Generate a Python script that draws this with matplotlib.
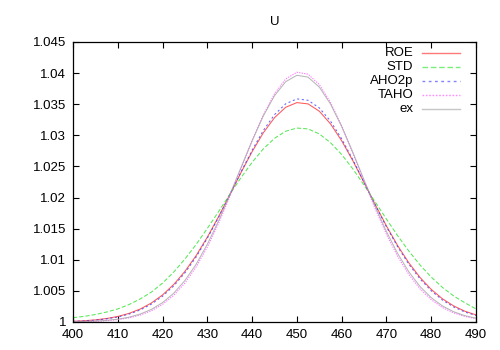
import matplotlib
matplotlib.use('Agg')
from matplotlib import pyplot as plt
from matplotlib.lines import Line2D

x = [400, 402.5, 405, 407.5, 410, 412.5, 415, 417.5, 420, 422.5,
     425, 427.5, 430, 432.5, 435, 437.5, 440, 442.5, 445, 447.5,
     450, 452.5, 455, 457.5, 460, 462.5, 465, 467.5, 470, 472.5,
     475, 477.5, 480, 482.5, 485, 487.5, 490]

roe = [1.00012, 1.00020, 1.00034, 1.00056, 1.00089, 1.00138, 1.00208, 1.00305, 1.00435, 1.00603,
       1.00814, 1.01067, 1.01364, 1.01692, 1.02043, 1.02398, 1.02737, 1.03040, 1.03284, 1.03451,
       1.03526, 1.03505, 1.03388, 1.03185, 1.02913, 1.02591, 1.02241, 1.01886, 1.01544, 1.01228,
       1.00951, 1.00716, 1.00524, 1.00373, 1.00259, 1.00174, 1.00114]

std = [1.00070, 1.00090, 1.00120, 1.00160, 1.00210, 1.00280, 1.00370, 1.00480, 1.00625, 1.00803,
       1.01012, 1.01246, 1.01504, 1.01773, 1.02050, 1.02318, 1.02566, 1.02782, 1.02952, 1.03066,
       1.03117, 1.03103, 1.03023, 1.02883, 1.02692, 1.02460, 1.02201, 1.01928, 1.01654, 1.01387,
       1.01140, 1.00916, 1.00722, 1.00556, 1.00419, 1.00310, 1.00210]

aho2p = [1.00010, 1.00017, 1.00030, 1.00050, 1.00080, 1.00126, 1.00193, 1.00287, 1.00414, 1.00580,
         1.00790, 1.01045, 1.01345, 1.01680, 1.02042, 1.02409, 1.02761, 1.03077, 1.03332, 1.03507,
         1.03586, 1.03563, 1.03441, 1.03229, 1.02944, 1.02609, 1.02246, 1.01880, 1.01530, 1.01208,
         1.00928, 1.00692, 1.00502, 1.00353, 1.00242, 1.00161, 1.00104]

taho = [1.00003, 1.00006, 1.00011, 1.00021, 1.00038, 1.00066, 1.00111, 1.00180, 1.00283, 1.00429,
        1.00626, 1.00884, 1.01204, 1.01583, 1.02010, 1.02463, 1.02912, 1.03327, 1.03668, 1.03906,
        1.04014, 1.03983, 1.03816, 1.03530, 1.03150, 1.02716, 1.02260, 1.01817, 1.01410, 1.01055,
        1.00763, 1.00532, 1.00359, 1.00233, 1.00146, 1.00089, 1.00052]

ex = [1.00004, 1.00008, 1.00014, 1.00026, 1.00045, 1.00077, 1.00127, 1.00202, 1.00311, 1.00463,
      1.00667, 1.00927, 1.01249, 1.01623, 1.02042, 1.02481, 1.02913, 1.03311, 1.03637, 1.03862,
      1.03965, 1.03935, 1.03776, 1.03504, 1.03142, 1.02725, 1.02284, 1.01853, 1.01453, 1.01100,
      1.00806, 1.00570, 1.00391, 1.00258, 1.00165, 1.00102, 1.00061]

labels = ['ROE', 'STD', 'AHO2p', 'TAHO', 'ex']
xticks = [400, 410, 420, 430, 440, 450, 460, 470, 480, 490]
yticks = [1, 1.005, 1.01, 1.015, 1.02, 1.025, 1.03, 1.035, 1.04, 1.045]
yticklabels = ['1', '1.005', '1.01', '1.015', '1.02', '1.025', '1.03', '1.035', '1.04', '1.045']

plt.rcParams['font.family'] = ['Liberation Sans', 'DejaVu Sans']
plt.rcParams['font.size'] = 9.5

fig = plt.figure(figsize=(5, 3.5), dpi=100)
ax = fig.add_axes([0.146, 0.08, 0.806, 0.80])

series = [roe, std, aho2p, taho, ex]
colors = ['#ff2020', '#20e020', '#3030ff', '#ff40ff', '#a0a0a0']
styles = ['-', (0, (4, 2)), (0, (2, 2.5)), (0, (1.2, 1.2)), '-']

for i, s in enumerate(series):
    ax.plot(x, s, color=colors[i], linestyle=styles[i], linewidth=0.75, alpha=0.75)

# gnuplot-style key: labels right-aligned, sample line after
for i, lab in enumerate(labels):
    yk = 0.962 - 0.05 * i
    ax.text(0.844, yk, lab, transform=ax.transAxes, ha='right', va='center')
    ax.add_line(Line2D([0.865, 0.960], [yk, yk], transform=ax.transAxes,
                       color=colors[i], linestyle=styles[i], linewidth=1.0, alpha=0.6))

ax.set_xlim(400, 490)
ax.set_ylim(1, 1.045)
ax.set_xticks(xticks)
ax.set_yticks(yticks)
ax.set_yticklabels(yticklabels)
ax.tick_params(direction='in', length=4, width=0.8, top=True, right=True, pad=5)
for sp in ax.spines.values():
    sp.set_linewidth(0.9)
ax.set_title('U', fontsize=9.5, pad=12)

plt.savefig('out.png')
